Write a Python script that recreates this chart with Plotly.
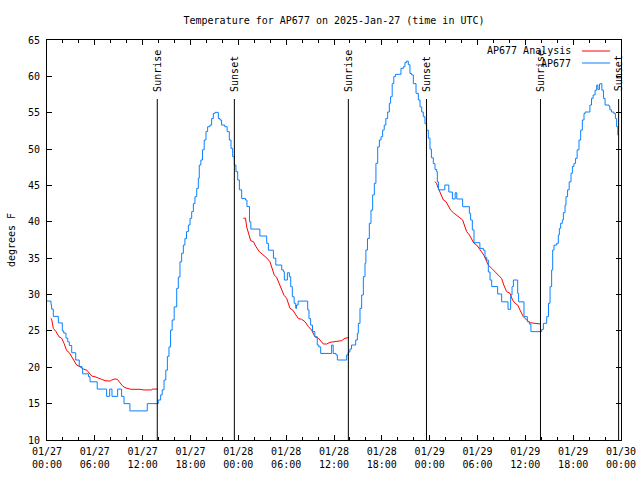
import pandas as pd
import plotly.graph_objects as go

BASE = pd.Timestamp("2025-01-27 00:00")

# Observations AP677 (hours since 01/27 00:00 UTC, degrees F)
obs_hours = [0.0, 0.5, 0.58, 0.79, 1.42, 1.92, 2.1, 2.38, 2.6, 2.8, 3.1, 3.6, 4.05, 4.39, 4.47,
             5.2, 5.4, 6.3, 7.48, 7.86, 8.15, 8.86, 9.36, 9.66, 10.4, 12.58, 13.95, 14.26, 14.45,
             14.68, 14.9, 15.1, 15.3, 15.5, 15.7, 15.95, 16.27, 16.47, 16.68, 16.89, 17.1, 17.3,
             17.5, 17.73, 17.94, 18.15, 18.36, 18.56, 18.78, 18.98, 19.1, 19.3, 19.5, 19.72, 19.94,
             20.15, 20.44, 20.65, 20.86, 21.07, 21.49, 21.7, 21.9, 22.3, 22.6, 22.87, 23.08, 23.29,
             23.5, 23.7, 23.92, 24.13, 24.42, 24.9, 25.08, 25.4, 25.57, 26.7, 27.56, 27.77, 28.4,
             28.7, 29.44, 29.65, 29.77, 30.15, 30.4, 30.57, 30.77, 31.0, 31.2, 31.3, 31.5, 32.7,
             32.86, 33.07, 33.3, 33.6, 33.9, 34.1, 34.33, 35.7, 35.9, 36.25, 36.42, 37.59, 37.8,
             38.0, 38.2, 38.72, 38.93, 39.05, 39.26, 39.47, 39.68, 39.89, 40.0, 40.2, 40.43, 40.64,
             40.85, 41.06, 41.26, 41.48, 41.69, 41.9, 42.1, 42.3, 42.5, 42.73, 42.94, 43.1, 43.3,
             43.5, 43.7, 44.4, 44.7, 44.9, 45.1, 45.32, 45.53, 45.74, 45.95, 46.29, 46.58, 46.79,
             47.0, 47.2, 47.41, 47.62, 47.83, 48.04, 48.22, 48.46, 48.67, 48.88, 48.96, 49.1, 49.9,
             50.4, 50.85, 51.2, 51.4, 52.14, 52.98, 53.14, 53.35, 53.56, 54.3, 54.73, 54.94, 55.15,
             55.36, 55.57, 55.78, 56.53, 57.03, 57.83, 58.16, 58.33, 58.5, 59.04, 59.16, 59.83,
             60.25, 60.5, 60.7, 62.05, 62.26, 62.68, 62.9, 63.1, 63.3, 63.43, 63.6, 63.93, 64.14,
             64.27, 64.43, 64.64, 64.77, 64.98, 65.1, 65.3, 65.5, 65.73, 65.9, 66.1, 66.3, 66.5,
             66.73, 66.94, 67.15, 67.36, 67.5, 68.1, 68.3, 68.5, 68.75, 68.95, 69.1, 69.3, 69.45,
             69.6, 69.8, 70.0, 70.5, 70.6, 70.8, 71.1, 71.3, 71.45, 71.6]
obs_temp = [29.1, 28.6, 28.0, 27.0, 26.1, 25.0, 24.7, 24.0, 23.5, 23.0, 22.0, 21.0, 20.1, 19.85, 19.1,
            18.7, 18.0, 17.0, 16.0, 17.0, 16.0, 17.0, 16.0, 15.0, 14.0, 15.0, 15.5, 16.2, 16.9,
            18.25, 19.6, 21.5, 22.8, 25.1, 26.5, 28.3, 30.85, 32.4, 34.5, 35.67, 36.8, 37.7,
            38.65, 39.56, 40.48, 41.4, 42.5, 43.46, 44.6, 45.98, 47.8, 48.5, 49.9, 51.25, 52.4,
            53.08, 53.3, 54.2, 54.9, 55.05, 54.2, 54.0, 53.3, 53.08, 52.4, 51.25, 50.1, 48.96,
            47.8, 46.9, 45.75, 44.4, 43.2, 43.0, 42.1, 40.0, 39.0, 38.05, 37.04, 36.1, 35.0,
            34.06, 33.4, 33.15, 32.0, 33.0, 32.46, 31.08, 29.7, 28.8, 28.1, 28.56, 29.1, 27.9,
            26.7, 25.8, 24.9, 24.2, 23.06, 22.8, 21.9, 23.06, 21.9, 21.7, 21.0, 21.7, 22.1,
            22.5, 23.06, 23.75, 24.67, 26.04, 28.1, 29.94, 32.46, 34.3, 36.12, 37.7, 39.79, 41.6,
            43.7, 45.3, 48.04, 50.3, 51.25, 51.7, 52.62, 53.3, 54.2, 55.1, 56.3, 57.2, 59.0,
            59.96, 60.28, 61.1, 61.33, 61.9, 62.1, 61.6, 60.4, 60.2, 59.0, 57.67, 56.75, 55.8,
            55.1, 54.46, 53.5, 52.6, 51.5, 50.0, 48.8, 48.0, 47.2, 46.9, 45.5, 44.4, 45.06,
            44.1, 43.14, 44.0, 43.14, 42.08, 41.17, 40.25, 38.9, 37.13, 36.35, 36.1, 35.1, 34.75,
            33.1, 32.0, 31.1, 30.08, 29.0, 27.97, 29.94, 31.1, 32.0, 30.17, 29.0, 26.96,
            26.27, 25.95, 24.9, 25.2, 26.04, 26.96, 28.8, 31.08, 33.38, 36.12, 36.8, 37.04, 38.2,
            39.1, 39.8, 40.25, 41.26, 42.3, 43.46, 44.4, 45.5, 46.67, 47.6, 48.04, 48.73, 49.9,
            51.25, 52.6, 54.0, 54.9, 55.1, 56.06, 56.98, 57.44, 58.1, 58.8, 58.2, 58.95, 59.0,
            58.1, 56.98, 56.06, 55.9, 55.4, 55.1, 54.9, 54.2, 53.1, 51.9]

# Analysis AP677, three night-time segments
ana_hours_1 = [0.5, 0.6, 0.79, 1.13, 1.5, 1.84, 2.13, 2.47, 2.8, 3.09, 3.39, 3.72, 4.14, 4.56, 5.0,
               5.27, 5.6, 6.02, 6.44, 6.86, 7.27, 7.9, 8.11, 8.53, 8.82, 9.15, 9.45, 9.78, 10.2,
               10.5, 11.66, 12.16, 13.12, 13.2, 13.84]
ana_temp_1 = [26.73, 26.5, 25.35, 24.9, 24.2, 24.0, 23.3, 22.3, 22.0, 21.46, 20.77, 20.3, 20.08,
              19.76, 19.6, 19.17, 18.8, 18.7, 18.48, 18.34, 18.16, 18.1, 18.25, 18.4, 18.34, 17.9,
              17.47, 17.2, 17.1, 16.97, 16.97, 16.88, 16.88, 17.0, 17.0]
ana_hours_2 = [24.63, 24.9, 25.05, 25.25, 25.55, 25.9, 26.2, 26.63, 27.1, 27.6, 27.97, 28.18, 28.5,
               28.8, 29.14, 29.44, 29.73, 30.06, 30.27, 30.48, 30.8, 31.1, 31.53, 31.94, 32.36,
               32.78, 33.2, 33.6, 34.04, 34.66, 35.08, 35.5, 36.25, 36.96, 37.38, 37.6, 37.9]
ana_temp_2 = [40.5, 40.5, 39.3, 38.4, 37.4, 37.27, 36.6, 35.9, 35.44, 35.0, 34.5, 33.8, 32.7,
              32.37, 31.54, 30.6, 29.9, 29.48, 28.8, 28.1, 27.9, 27.4, 26.7, 26.6, 26.27, 25.6,
              25.1, 24.2, 24.0, 23.2, 23.2, 23.43, 23.5, 23.66, 24.0, 24.07, 24.07]
ana_hours_3 = [48.67, 48.85, 49.09, 49.3, 49.5, 49.72, 50.05, 50.35, 50.64, 50.97, 51.39, 51.8,
               52.14, 52.35, 52.64, 52.98, 53.27, 53.56, 53.9, 54.23, 54.5, 54.8, 55.07, 55.36,
               55.78, 56.2, 56.6, 57.03, 57.3, 57.65, 58.07, 58.4, 58.7, 59.04, 59.33, 59.75,
               60.17, 60.6, 61.2, 61.9]
ana_temp_3 = [45.52, 45.3, 44.6, 44.0, 43.46, 43.0, 42.77, 42.08, 41.6, 41.26, 40.94, 40.6, 40.25,
              39.56, 38.65, 38.2, 37.7, 37.04, 36.8, 36.2, 35.9, 35.4, 34.75, 34.06, 33.6, 33.14,
              32.7, 32.2, 31.3, 30.4, 30.17, 29.25, 28.8, 28.56, 27.875, 26.96, 26.5, 26.13,
              26.04, 25.95]

# Sun events (UTC)
sun_times = ["2025-01-27 13:50", "2025-01-27 23:30", "2025-01-28 13:48",
             "2025-01-28 23:36", "2025-01-29 13:54", "2025-01-29 23:42"]
sun_labels = ["Sunrise", "Sunset", "Sunrise", "Sunset", "Sunrise", "Sunset"]

y_ticks = [10, 15, 20, 25, 30, 35, 40, 45, 50, 55, 60, 65]

FONT = "DejaVu Sans Mono"
RED = "#ff0000"
BLUE = "#0a80ff"


def to_time(hours):
    return [BASE + pd.Timedelta(hours=h) for h in hours]


ana_x, ana_y = [], []
for hs, ts in [(ana_hours_1, ana_temp_1), (ana_hours_2, ana_temp_2), (ana_hours_3, ana_temp_3)]:
    ana_x += to_time(hs) + [None]
    ana_y += ts + [None]

fig = go.Figure()
fig.add_trace(go.Scatter(x=ana_x, y=ana_y, mode="lines", name="AP677 Analysis",
                         line=dict(color=RED, width=1), connectgaps=False))
fig.add_trace(go.Scatter(x=to_time(obs_hours), y=obs_temp, mode="lines", name="AP677",
                         line=dict(color=BLUE, width=1, shape="hv")))

for t, lab in zip(sun_times, sun_labels):
    fig.add_shape(type="line", xref="x", yref="paper", x0=t, x1=t, y0=0, y1=0.8525,
                  line=dict(color="black", width=1))
    fig.add_annotation(x=t, xref="x", yref="paper", y=0.866, text=lab, textangle=-90,
                       showarrow=False, xanchor="center", yanchor="bottom",
                       font=dict(family=FONT, size=10, color="black"))

# manual gnuplot-style key (text left of sample line)
legend_items = [("AP677 Analysis", RED, 0.9725), ("AP677", BLUE, 0.9425)]
for txt, col, yy in legend_items:
    fig.add_annotation(x=0.9164, y=yy, xref="paper", yref="paper", text=txt, showarrow=False,
                       xanchor="right", yanchor="middle",
                       font=dict(family=FONT, size=10, color="black"))
    fig.add_shape(type="line", xref="paper", yref="paper", x0=0.932, x1=0.981, y0=yy, y1=yy,
                  line=dict(color=col, width=1))

fig.update_layout(
    width=640, height=480,
    margin=dict(l=47, r=19, t=40, b=40),
    paper_bgcolor="white", plot_bgcolor="white",
    showlegend=False,
    font=dict(family=FONT, size=10, color="black"),
    title=dict(text="Temperature for AP677 on 2025-Jan-27 (time in UTC)",
               x=0.5, xref="paper", y=1 - 20 / 480, yref="container", yanchor="middle",
               font=dict(family=FONT, size=10, color="black")),
)
fig.update_xaxes(
    type="date", range=["2025-01-27 00:00", "2025-01-30 00:00"],
    dtick=6 * 3600 * 1000, tick0="2025-01-27 00:00", tickformat="%m/%d<br>%H:%M",
    ticks="inside", ticklen=5, tickcolor="black", mirror="ticks",
    showline=True, linecolor="black", linewidth=1, showgrid=False, zeroline=False,
    minor=dict(ticks="inside", ticklen=3, dtick=2 * 3600 * 1000, tickcolor="black", showgrid=False),
    tickfont=dict(family=FONT, size=10, color="black"), ticklabelstandoff=2,
    automargin=False,
)
fig.update_yaxes(
    range=[10, 65], tickvals=y_ticks, ticktext=[str(v) for v in y_ticks],
    ticks="inside", ticklen=5, tickcolor="black", mirror="ticks",
    showline=True, linecolor="black", linewidth=1, showgrid=False, zeroline=False,
    title=dict(text="degrees F", standoff=10, font=dict(family=FONT, size=10, color="black")),
    tickfont=dict(family=FONT, size=10, color="black"), ticklabelstandoff=4,
    automargin=False,
)

fig.write_html("out.html", config={"displayModeBar": False},
               post_script="document.body.style.margin='0';document.body.style.padding='0';")
